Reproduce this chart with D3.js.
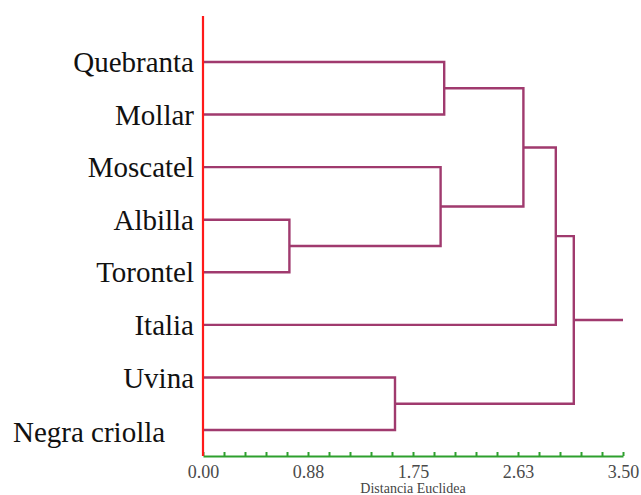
<!DOCTYPE html>
<html>
<head>
<meta charset="utf-8">
<script src="https://cdn.jsdelivr.net/npm/d3@7"></script>
<style>
  body { margin: 0; background: #fff; }
  .leaf { font-family: "Liberation Serif", "Times New Roman", serif; font-size: 29px; fill: #111; }
  .link { fill: none; stroke: #a03a6e; stroke-width: 2.4; }
</style>
</head>
<body>
<div id="chart"></div>
<script>
// leaf labels, top to bottom
var labels = ["Quebranta", "Mollar", "Moscatel", "Albilla", "Torontel", "Italia", "Uvina", "Negra criolla"];

// merges: cluster n+i joins mergeA[i] and mergeB[i] at mergeDist[i]
var mergeA = [3, 6, 2, 0, 11, 12, 13];
var mergeB = [4, 7, 8, 1, 10, 5, 9];
var mergeDist = [0.72, 1.60, 1.98, 2.01, 2.67, 2.94, 3.09];

// axis
var tickValues = [0, 0.875, 1.75, 2.625, 3.5];
var tickLabels = ["0.00", "0.88", "1.75", "2.63", "3.50"];
var minorStep = 0.175;

var W = 641, H = 495;

var svg = d3.select("#chart").append("svg")
  .attr("width", W)
  .attr("height", H);

var x = d3.scaleLinear().domain([0, 3.5]).range([203, 623]);
var y = d3.scalePoint().domain(labels).range([62, 430]);

// node positions
var nodes = labels.map(function(l) { return {x: x(0), y: y(l)}; });
mergeA.forEach(function(a, i) {
  var na = nodes[a], nb = nodes[mergeB[i]];
  var xm = x(mergeDist[i]);
  nodes.push({x: xm, y: (na.y + nb.y) / 2, a: na, b: nb});
});

var paths = [];
nodes.forEach(function(n) {
  if (n.a) {
    paths.push("M" + n.a.x + "," + n.a.y + "H" + n.x + "V" + n.b.y + "H" + n.b.x);
  }
});
var root = nodes[nodes.length - 1];
paths.push("M" + root.x + "," + root.y + "H" + x(3.5));

svg.selectAll(".link")
  .data(paths)
  .enter().append("path")
  .attr("class", "link")
  .attr("d", function(d) { return d; });

// x axis (green)
var minor = d3.range(0, 3.5 + 1e-9, minorStep);
var axisY = 456;
var gx = svg.append("g")
  .attr("transform", "translate(0," + axisY + ")")
  .call(d3.axisBottom(x).tickValues(minor).tickSize(-4).tickSizeOuter(0).tickPadding(9)
    .tickFormat(function(d) {
      var k = tickValues.findIndex(function(t) { return Math.abs(t - d) < 1e-6; });
      return k >= 0 ? tickLabels[k] : "";
    }));
gx.attr("font-family", "Liberation Serif, serif").attr("font-size", 18);
gx.select(".domain").attr("stroke", "#2ea02e").attr("stroke-width", 2);
gx.selectAll(".tick line").attr("stroke", "#2ea02e").attr("stroke-width", 2);
gx.selectAll(".tick text")
  .style("font-family", "'Liberation Serif', serif")
  .style("font-size", "18px")
  .attr("fill", "#4a4a4a");

// red vertical axis
svg.append("line")
  .attr("x1", x(0)).attr("x2", x(0))
  .attr("y1", 16).attr("y2", axisY)
  .attr("stroke", "#ff1a1a")
  .attr("stroke-width", 2.2);

// leaf labels
svg.selectAll(".leaf")
  .data(labels)
  .enter().append("text")
  .attr("class", "leaf")
  .attr("x", function(d, i) { return i === labels.length - 1 ? 13 : 194; })
  .attr("y", function(d) { return y(d); })
  .attr("dy", function(d, i) { return i === labels.length - 1 ? "0.4em" : "0.35em"; })
  .attr("text-anchor", function(d, i) { return i === labels.length - 1 ? "start" : "end"; })
  .text(function(d) { return d; });

// axis title
svg.append("text")
  .attr("x", (x(0) + x(3.5)) / 2)
  .attr("y", 493)
  .attr("text-anchor", "middle")
  .style("font-family", "'Liberation Serif', serif")
  .style("font-size", "14px")
  .style("fill", "#444")
  .text("Distancia Euclidea");
</script>
</body>
</html>
